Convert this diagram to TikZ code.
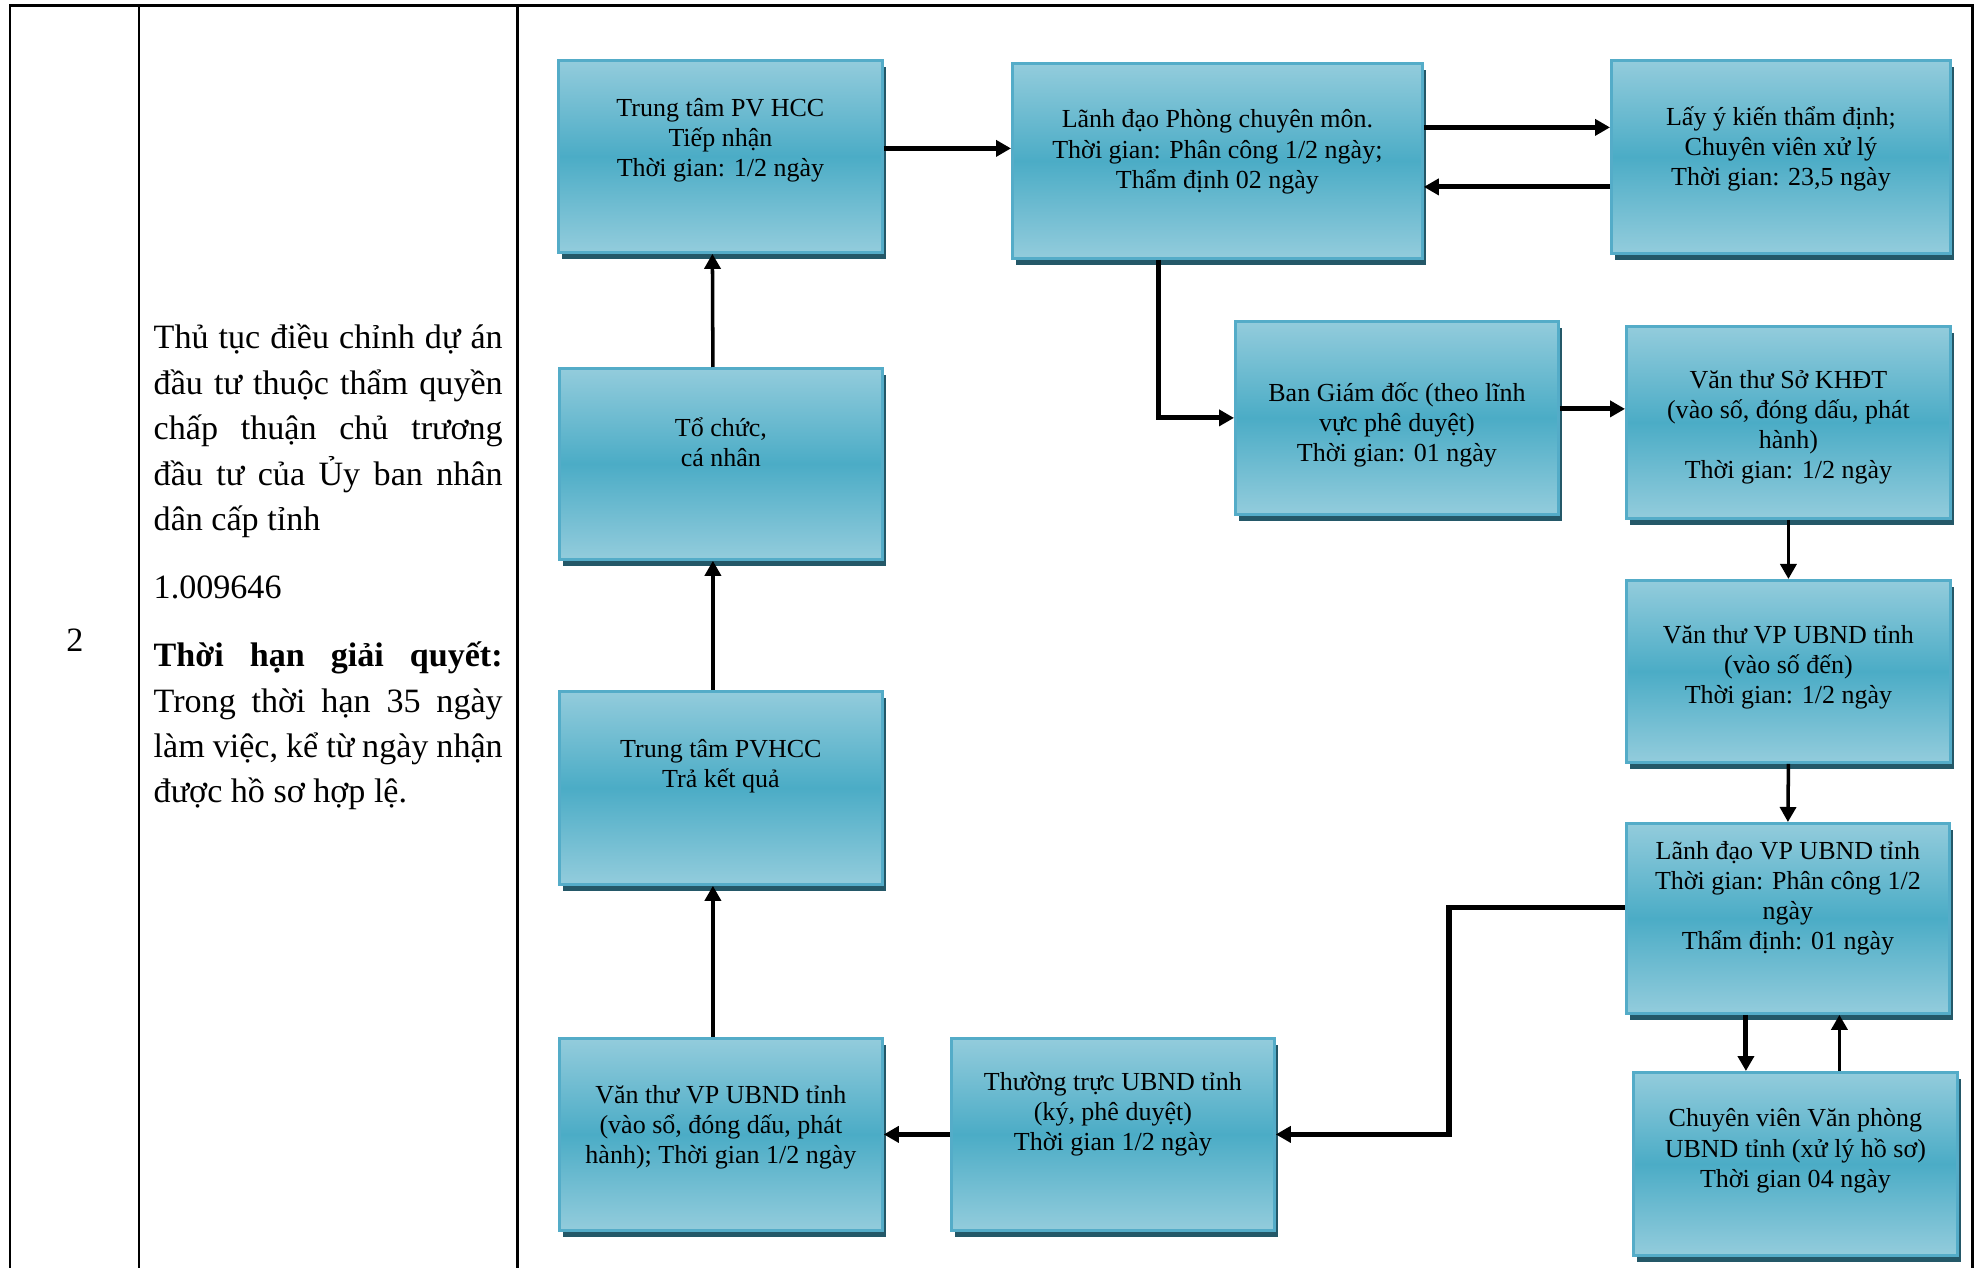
\documentclass[tikz,border=0pt]{standalone}
\usepackage{fontspec}
\setmainfont{Liberation Serif}
\usetikzlibrary{arrows.meta,shadows}

\definecolor{boxlight}{RGB}{147,204,220}
\definecolor{boxmid}{RGB}{75,172,198}
\definecolor{boxedge}{RGB}{84,172,200}
\definecolor{boxshadow}{RGB}{36,88,104}

\tikzset{
  procbox/.style={rectangle, draw=boxedge, line width=0.8pt, anchor=north west, inner sep=0pt,
    top color=boxlight, bottom color=boxlight, middle color=boxmid,
    drop shadow={shadow xshift=0.04cm, shadow yshift=-0.07cm, fill=boxshadow, opacity=1}},
  proctext/.style={font=\fontsize{7.4}{8.6}\selectfont, align=center, inner sep=0pt},
  coltext/.style={font=\fontsize{9.7}{12.9}\selectfont, anchor=base west, text width=3.49cm,
    align=justify, inner sep=0pt},
  flow/.style={line width=1pt, -{Triangle[length=0.15cm,width=0.16cm]}},
  flowthick/.style={line width=1.45pt, -{Triangle[length=0.15cm,width=0.16cm]}},
  tableline/.style={line width=0.85pt}
}

\begin{document}
\begin{tikzpicture}
		\useasboundingbox (0,0) rectangle (19.75,-12.68);

		% Table
		\draw[tableline] (0.10,-12.68) -- (0.10,-0.055) -- (19.72,-0.055) -- (19.72,-12.68);
		\draw[tableline] (1.39,-0.055) -- (1.39,-12.68);
		\draw[tableline] (5.17,-0.055) -- (5.17,-12.68);
		\node[font=\fontsize{9.7}{12.9}\selectfont] (num) at (0.75,-6.40) {2};
		\node[coltext] (proc) at (1.53,-3.49) {\setlength{\parindent}{0pt}Thủ tục điều chỉnh dự án\linebreak đầu tư thuộc thẩm quyền\linebreak chấp thuận chủ trương\linebreak đầu tư của Ủy ban nhân\linebreak dân cấp tỉnh\par\vspace{6.5pt}1.009646\par\vspace{6.5pt}\textbf{Thời hạn giải quyết:}\linebreak Trong thời hạn 35 ngày\linebreak làm việc, kể từ ngày nhận\linebreak được hồ sơ hợp lệ.};

		% Define nodes
		\node[procbox, minimum width=3.24cm, minimum height=1.92cm,
			label={[proctext,yshift=0.16cm]center:{Trung tâm PV HCC\\Tiếp nhận\\Thời gian: 1/2 ngày}}] (A) at (5.57,-0.59) {};
		\node[procbox, minimum width=4.10cm, minimum height=1.95cm,
			label={[proctext,yshift=0.09cm]center:{Lãnh đạo Phòng chuyên môn.\\Thời gian: Phân công 1/2 ngày;\\Thẩm định 02 ngày}}] (B) at (10.11,-0.62) {};
		\node[procbox, minimum width=3.39cm, minimum height=1.93cm,
			label={[proctext,yshift=0.08cm]center:{Lấy ý kiến thẩm định;\\Chuyên viên xử lý\\Thời gian: 23,5 ngày}}] (C) at (16.10,-0.59) {};
		\node[procbox, minimum width=3.23cm, minimum height=1.91cm,
			label={[proctext,yshift=0.22cm]center:{Tổ chức,\\cá nhân}}] (D) at (5.58,-3.67) {};
		\node[procbox, minimum width=3.23cm, minimum height=1.93cm,
			label={[proctext,yshift=-0.07cm]center:{Ban Giám đốc (theo lĩnh\\vực phê duyệt)\\Thời gian: 01 ngày}}] (E) at (12.34,-3.20) {};
		\node[procbox, minimum width=3.24cm, minimum height=1.92cm,
			label={[proctext,yshift=-0.05cm]center:{Văn thư Sở KHĐT\\(vào số, đóng dấu, phát\\hành)\\Thời gian: 1/2 ngày}}] (F) at (16.25,-3.25) {};
		\node[procbox, minimum width=3.23cm, minimum height=1.93cm,
			label={[proctext,yshift=0.22cm]center:{Trung tâm PVHCC\\Trả kết quả}}] (G) at (5.58,-6.90) {};
		\node[procbox, minimum width=3.24cm, minimum height=1.82cm,
			label={[proctext,yshift=0.04cm]center:{Văn thư VP UBND tỉnh\\(vào số đến)\\Thời gian: 1/2 ngày}}] (H) at (16.25,-5.79) {};
		\node[procbox, minimum width=3.23cm, minimum height=1.90cm,
			label={[proctext,yshift=0.20cm]center:{Lãnh đạo VP UBND tỉnh\\Thời gian: Phân công 1/2\\ngày\\Thẩm định: 01 ngày}}] (I) at (16.25,-8.22) {};
		\node[procbox, minimum width=3.23cm, minimum height=1.92cm,
			label={[proctext,yshift=0.07cm]center:{Văn thư VP UBND tỉnh\\(vào sổ, đóng dấu, phát\\hành); Thời gian 1/2 ngày}}] (J) at (5.58,-10.37) {};
		\node[procbox, minimum width=3.23cm, minimum height=1.92cm,
			label={[proctext,yshift=0.20cm]center:{Thường trực UBND tỉnh\\(ký, phê duyệt)\\Thời gian 1/2 ngày}}] (K) at (9.50,-10.37) {};
		\node[procbox, minimum width=3.24cm, minimum height=1.83cm,
			label={[proctext,yshift=0.13cm]center:{Chuyên viên Văn phòng\\UBND tỉnh (xử lý hồ sơ)\\Thời gian 04 ngày}}] (L) at (16.32,-10.71) {};

		% Connect the nodes
		\draw[flowthick] ([yshift=0.08cm]A.east) -- ([yshift=0.08cm]B.west |- A.east);
		\draw[flowthick] ([yshift=0.335cm]B.east) -- ([yshift=0.335cm]C.west |- B.east);
		\draw[flowthick] ([yshift=-0.30cm]C.west) -- ([yshift=-0.30cm]B.east |- C.west);
		\draw[flowthick] ([xshift=-0.59cm]B.south) |- (E.west);
		\draw[flowthick] ([yshift=0.09cm]E.east) -- ([yshift=0.09cm]F.west |- E.east);
		\draw[flow] (F.south) -- (H.north);
		\draw[flow] (H.south) -- (I.north);
		\draw[flowthick] ([xshift=-0.42cm]I.south) -- ([xshift=-0.42cm]I.south |- L.north);
		\draw[flow] ([xshift=0.44cm]L.north) -- ([xshift=0.44cm]L.north |- I.south);
		\draw[flowthick] ([yshift=0.11cm]I.west) -- ++(-1.76,0) |- (K.east);
		\draw[flowthick] (K.west) -- (K.west -| J.east);
		\draw[flow] ([xshift=-0.08cm]J.north) -- ([xshift=-0.08cm]G.south);
		\draw[flow] ([xshift=-0.08cm]G.north) -- ([xshift=-0.08cm]D.south);
		\draw[flow] ([xshift=-0.08cm]D.north) -- ([xshift=-0.08cm]A.south);
	\end{tikzpicture}
\end{document}
